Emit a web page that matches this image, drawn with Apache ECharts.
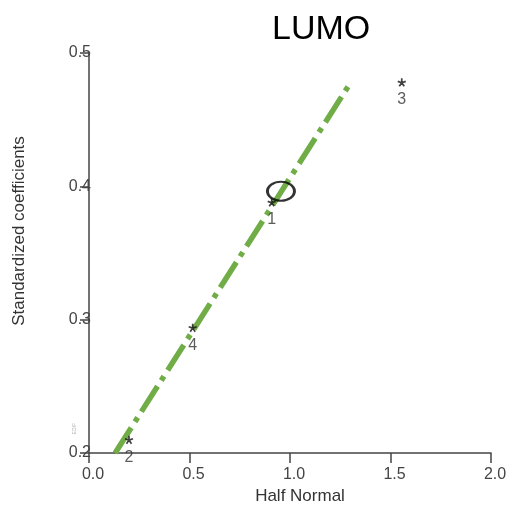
<!DOCTYPE html>
<html>
<head>
<meta charset="utf-8">
<script src="https://cdn.jsdelivr.net/npm/echarts@6/dist/echarts.min.js"></script>
<style>
  html, body { margin: 0; padding: 0; background: #fff; }
  #main { width: 510px; height: 512px; }
</style>
</head>
<body>
<div id="main"></div>
<script>
// points: [half normal, standardized coefficient, label]
var points = [
    [0.909, 0.388, '1'],
    [0.199, 0.210, '2'],
    [1.556, 0.478, '3'],
    [0.516, 0.294, '4']
];
// fitted reference line (two ends)
var fitLine = [[0.13, 0.2], [1.30, 0.4775]];
// circled point
var highlight = [[0.955, 0.3963]];

var xTicks = [0, 0.5, 1.0, 1.5, 2.0];
var yTicks = [0.2, 0.3, 0.4, 0.5];

var font = 'Liberation Sans, Arial, sans-serif';
var asterisk = 'path://M5,5L5,0M5,5L9.76,3.45M5,5L7.94,9.05M5,5L2.06,9.05M5,5L0.24,3.45';

var myChart = echarts.init(document.getElementById('main'));
var option = {
    animation: false,
    title: {
        text: 'LUMO',
        left: 267,
        top: 8,
        textStyle: {
            fontFamily: font,
            fontSize: 34,
            fontWeight: 'normal',
            color: '#000'
        }
    },
    grid: {
        left: 89,
        right: 19,
        top: 53,
        bottom: 59
    },
    xAxis: {
        type: 'value',
        min: xTicks[0],
        max: xTicks[xTicks.length - 1],
        interval: 0.5,
        name: 'Half Normal',
        nameLocation: 'middle',
        nameGap: 29,
        nameTextStyle: { fontFamily: font, fontSize: 17, color: '#333', padding: [0, 0, 0, 20] },
        axisLine: { show: true, onZero: false, lineStyle: { color: '#444', width: 1.5 } },
        axisTick: { show: true, inside: false, length: 10, lineStyle: { color: '#444', width: 1.5 } },
        axisLabel: {
            margin: 14,
            padding: [0, 0, 0, 8],
            fontFamily: font,
            fontSize: 16,
            color: '#444',
            formatter: function (v) { return v.toFixed(1); }
        },
        splitLine: { show: false }
    },
    yAxis: {
        type: 'value',
        min: yTicks[0],
        max: yTicks[yTicks.length - 1],
        interval: 0.1,
        name: 'Standardized coefficients',
        nameLocation: 'middle',
        nameGap: 61,
        nameTextStyle: { fontFamily: font, fontSize: 17, color: '#333', padding: [0, 0, 0, 44] },
        axisLine: { show: true, onZero: false, lineStyle: { color: '#444', width: 1.5 } },
        axisTick: { show: true, inside: false, length: 9, lineStyle: { color: '#444', width: 1.5 } },
        axisLabel: {
            margin: -2,
            fontFamily: font,
            fontSize: 16,
            color: '#444',
            formatter: function (v) { return v.toFixed(1); }
        },
        splitLine: { show: false }
    },
    graphic: [{
        type: 'text',
        left: 72,
        top: 423,
        rotation: Math.PI / 2,
        style: { text: 'EDIF', fontSize: 5, fill: '#aaa', fontFamily: font }
    }],
    series: [{
        type: 'line',
        data: fitLine,
        showSymbol: false,
        clip: false,
        lineStyle: {
            color: '#70ad47',
            width: 5.5,
            type: [30, 7, 5, 7],
            cap: 'butt'
        },
        z: 2
    }, {
        type: 'scatter',
        data: points,
        symbol: asterisk,
        symbolSize: 8,
        itemStyle: { color: 'none', borderColor: '#111', borderWidth: 1.7 },
        label: {
            show: true,
            position: 'bottom',
            distance: 3,
            fontFamily: font,
            fontSize: 16,
            color: '#333',
            formatter: function (p) { return p.data[2]; }
        },
        z: 3
    }, {
        type: 'scatter',
        data: highlight,
        symbol: 'circle',
        symbolSize: [27, 19],
        itemStyle: { color: 'none', borderColor: '#000', borderWidth: 2.5 },
        z: 4
    }]
};
myChart.setOption(option);
</script>
</body>
</html>
